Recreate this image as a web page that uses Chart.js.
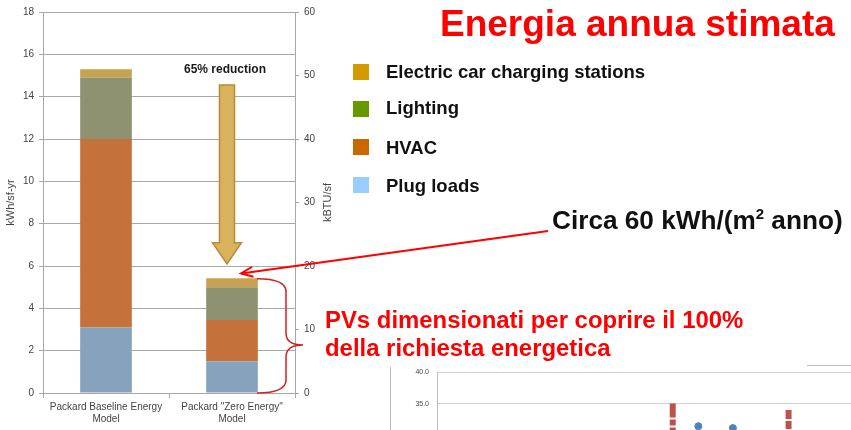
<!DOCTYPE html>
<html>
<head>
<meta charset="utf-8">
<script src="https://cdn.jsdelivr.net/npm/chart.js@4.4.1/dist/chart.umd.min.js"></script>
<style>
  html, body { margin: 0; padding: 0; width: 851px; height: 430px; overflow: hidden; background: #fff; }
  body { position: relative; font-family: "Liberation Sans", Arial, sans-serif; }
  .abs { position: absolute; white-space: nowrap; }
  #mainChart { position: absolute; left: 0; top: 0; }
  #miniChart { position: absolute; left: 391px; top: 360px; }
  .title { left: 440px; top: 5px; font-size: 37px; line-height: 37px; font-weight: bold; color: #ff0000; }
  .sw { position: absolute; left: 353px; width: 16px; height: 16px; }
  .leg { left: 386px; font-size: 18.5px; line-height: 18.5px; font-weight: bold; color: #111; }
  .circa { left: 552px; top: 207px; font-size: 26.2px; line-height: 26px; font-weight: bold; color: #111; }
  .circa sup { font-size: 15px; line-height: 0; vertical-align: 10px; }
  .pv { left: 325px; top: 306px; font-size: 23.9px; line-height: 28px; font-weight: bold; color: #ff0000; }
  .red65 { left: 184px; top: 63px; font-size: 12px; line-height: 12px; font-weight: bold; color: #1a1a1a; }
  .frame-v { position: absolute; left: 390px; top: 367px; width: 1px; height: 70px; background: #bdbdbd; }
  .frame-h { position: absolute; left: 807px; top: 365px; width: 50px; height: 1px; background: #bdbdbd; }
</style>
</head>
<body>
<canvas id="mainChart" width="851" height="430"></canvas>
<div class="frame-v"></div>
<div class="frame-h"></div>
<canvas id="miniChart" width="500" height="150"></canvas>

<div class="abs title">Energia annua stimata</div>

<div class="sw" style="top:64px;background:#d49a00"></div>
<div class="abs leg" style="top:63px">Electric car charging stations</div>
<div class="sw" style="top:101px;background:#669900"></div>
<div class="abs leg" style="top:99px">Lighting</div>
<div class="sw" style="top:139px;background:#cc6600"></div>
<div class="abs leg" style="top:139px">HVAC</div>
<div class="sw" style="top:177px;background:#99ccff"></div>
<div class="abs leg" style="top:177px">Plug loads</div>

<div class="abs red65">65% reduction</div>
<div class="abs circa">Circa 60 kWh/(m<sup>2</sup> anno)</div>
<div class="abs pv">PVs dimensionati per coprire il 100%<br>della richiesta energetica</div>

<script>
// main chart data (kWh/sf-yr, stacked segments)
const categories = [['Packard Baseline Energy', 'Model'], ['Packard "Zero Energy"', 'Model']];
const plugLoads = [3.1, 1.5];
const hvac = [8.9, 1.95];
const lighting = [2.9, 1.55];
const evCharging = [0.4, 0.42];

// background chart (partly visible at the bottom right)
const redX = [52.5, 78.3];
const redTop = [35, 34];
const redLow = [25, 26];
const blueX = [58.2, 65.9];
const blueY = [31.4, 31.1];

Chart.defaults.font.family = '"Liberation Sans", Arial, sans-serif';
Chart.defaults.color = '#444';

const gridGray = '#a8a8a8';

const annotations = {
    id: 'annotations',
    afterDraw(chart) {
        const ctx = chart.ctx;
        const x = chart.scales.x, y = chart.scales.y, y1 = chart.scales.y1;
        const area = chart.chartArea;
        ctx.save();

        // yellow "reduction" arrow
        const cx = x.getPixelForValue(1) - 5;
        const top = y.getPixelForValue(14.55);
        const neck = y.getPixelForValue(7.1);
        const tip = y.getPixelForValue(6.1);
        ctx.beginPath();
        ctx.moveTo(cx - 7.5, top);
        ctx.lineTo(cx + 7.5, top);
        ctx.lineTo(cx + 7.5, neck);
        ctx.lineTo(cx + 14.5, neck);
        ctx.lineTo(cx, tip);
        ctx.lineTo(cx - 14.5, neck);
        ctx.lineTo(cx - 7.5, neck);
        ctx.closePath();
        ctx.fillStyle = '#d8b25c';
        ctx.fill();
        ctx.strokeStyle = '#b48d36';
        ctx.lineWidth = 1.5;
        ctx.stroke();

        // red arrow towards top of zero energy bar
        const tx = x.getPixelForValue(1) + 9;
        const ty = y.getPixelForValue(5.65);
        const sx = 548, sy = 231;
        const ang = Math.atan2(sy - ty, sx - tx);
        ctx.strokeStyle = '#ff0000';
        ctx.lineWidth = 2;
        ctx.beginPath();
        ctx.moveTo(sx, sy);
        ctx.lineTo(tx, ty);
        ctx.stroke();
        ctx.beginPath();
        ctx.moveTo(tx + 13 * Math.cos(ang - 0.4), ty + 13 * Math.sin(ang - 0.4));
        ctx.lineTo(tx, ty);
        ctx.lineTo(tx + 13 * Math.cos(ang + 0.4), ty + 13 * Math.sin(ang + 0.4));
        ctx.stroke();

        // brace next to zero energy bar
        const bTop = y.getPixelForValue(5.4);
        const bBot = y.getPixelForValue(0);
        const bMid = bTop + 0.58 * (bBot - bTop);
        const bl = 257, bx = 286, bt = 303;
        ctx.strokeStyle = '#d42020';
        ctx.lineWidth = 1.5;
        ctx.beginPath();
        ctx.moveTo(bl, bTop);
        ctx.quadraticCurveTo(bx, bTop, bx, bTop + 13);
        ctx.lineTo(bx, bMid - 12);
        ctx.quadraticCurveTo(bx, bMid, bt, bMid);
        ctx.quadraticCurveTo(bx, bMid, bx, bMid + 12);
        ctx.lineTo(bx, bBot - 13);
        ctx.quadraticCurveTo(bx, bBot, bl, bBot);
        ctx.stroke();

        // right axis title, reading upwards
        ctx.translate(y1.left + 33, (area.top + area.bottom) / 2);
        ctx.rotate(-Math.PI / 2);
        ctx.fillStyle = '#444';
        ctx.font = '11px "Liberation Sans", Arial, sans-serif';
        ctx.textAlign = 'center';
        ctx.textBaseline = 'middle';
        ctx.fillText('kBTU/sf', 0, 0);
        ctx.restore();
    }
};

new Chart(document.getElementById('mainChart'), {
    type: 'bar',
    data: {
        labels: categories,
        datasets: [
            { label: 'Plug loads', data: plugLoads, backgroundColor: '#86a2bd' },
            { label: 'HVAC', data: hvac, backgroundColor: '#c4713b' },
            { label: 'Lighting', data: lighting, backgroundColor: '#8f9270' },
            { label: 'Electric car charging stations', data: evCharging, backgroundColor: '#c9a24f' }
        ]
    },
    options: {
        responsive: false,
        animation: false,
        barPercentage: 0.41,
        categoryPercentage: 1,
        layout: { padding: { top: 12, left: 0, right: 516, bottom: 0 } },
        plugins: { legend: { display: false }, tooltip: { enabled: false } },
        scales: {
            x: {
                stacked: true,
                grid: { drawOnChartArea: false, tickLength: 5, color: gridGray },
                border: { color: gridGray },
                ticks: { font: { size: 10 }, color: '#444', padding: 3, maxRotation: 0 },
                afterFit(s) { s.height = 37; }
            },
            y: {
                stacked: true,
                min: 0, max: 18,
                ticks: { stepSize: 2, font: { size: 10 }, color: '#444', padding: 5 },
                grid: { color: gridGray, tickLength: 4 },
                border: { color: gridGray },
                title: { display: true, text: 'kWh/sf-yr', font: { size: 11 }, color: '#444' },
                afterFit(s) { s.width = 43; }
            },
            y1: {
                position: 'right',
                min: 0, max: 60,
                ticks: { stepSize: 10, font: { size: 10 }, color: '#444', padding: 5 },
                grid: { drawOnChartArea: false, tickLength: 4, color: gridGray },
                border: { color: gridGray },
                afterFit(s) { s.width = 40; }
            }
        }
    },
    plugins: [annotations]
});

new Chart(document.getElementById('miniChart'), {
    type: 'scatter',
    data: {
        datasets: [
            {
                type: 'line',
                data: [{ x: redX[0], y: redTop[0] }, { x: redX[0], y: redLow[0] }],
                borderColor: '#c0504d', borderWidth: 6, borderDash: [14, 2, 6, 2], pointRadius: 0
            },
            {
                type: 'line',
                data: [{ x: redX[1], y: redTop[1] }, { x: redX[1], y: redLow[1] }],
                borderColor: '#c0504d', borderWidth: 6, borderDash: [9, 2, 8, 2], pointRadius: 0
            },
            {
                data: blueX.map((v, i) => ({ x: v, y: blueY[i] })),
                backgroundColor: '#4f81bd', borderColor: '#4f81bd', pointRadius: 3.5
            }
        ]
    },
    options: {
        responsive: false,
        animation: false,
        layout: { padding: { top: 10, bottom: 6, right: 0, left: 0 } },
        plugins: { legend: { display: false }, tooltip: { enabled: false } },
        scales: {
            x: { type: 'linear', min: 0, max: 100, display: false },
            y: {
                min: 20, max: 40,
                ticks: { stepSize: 5, font: { size: 7 }, color: '#444', padding: 8, callback: v => v.toFixed(1) },
                grid: { color: '#cfcfcf', drawTicks: false },
                border: { color: '#bdbdbd' },
                afterFit(s) { s.width = 46; }
            }
        }
    }
});
</script>
</body>
</html>
